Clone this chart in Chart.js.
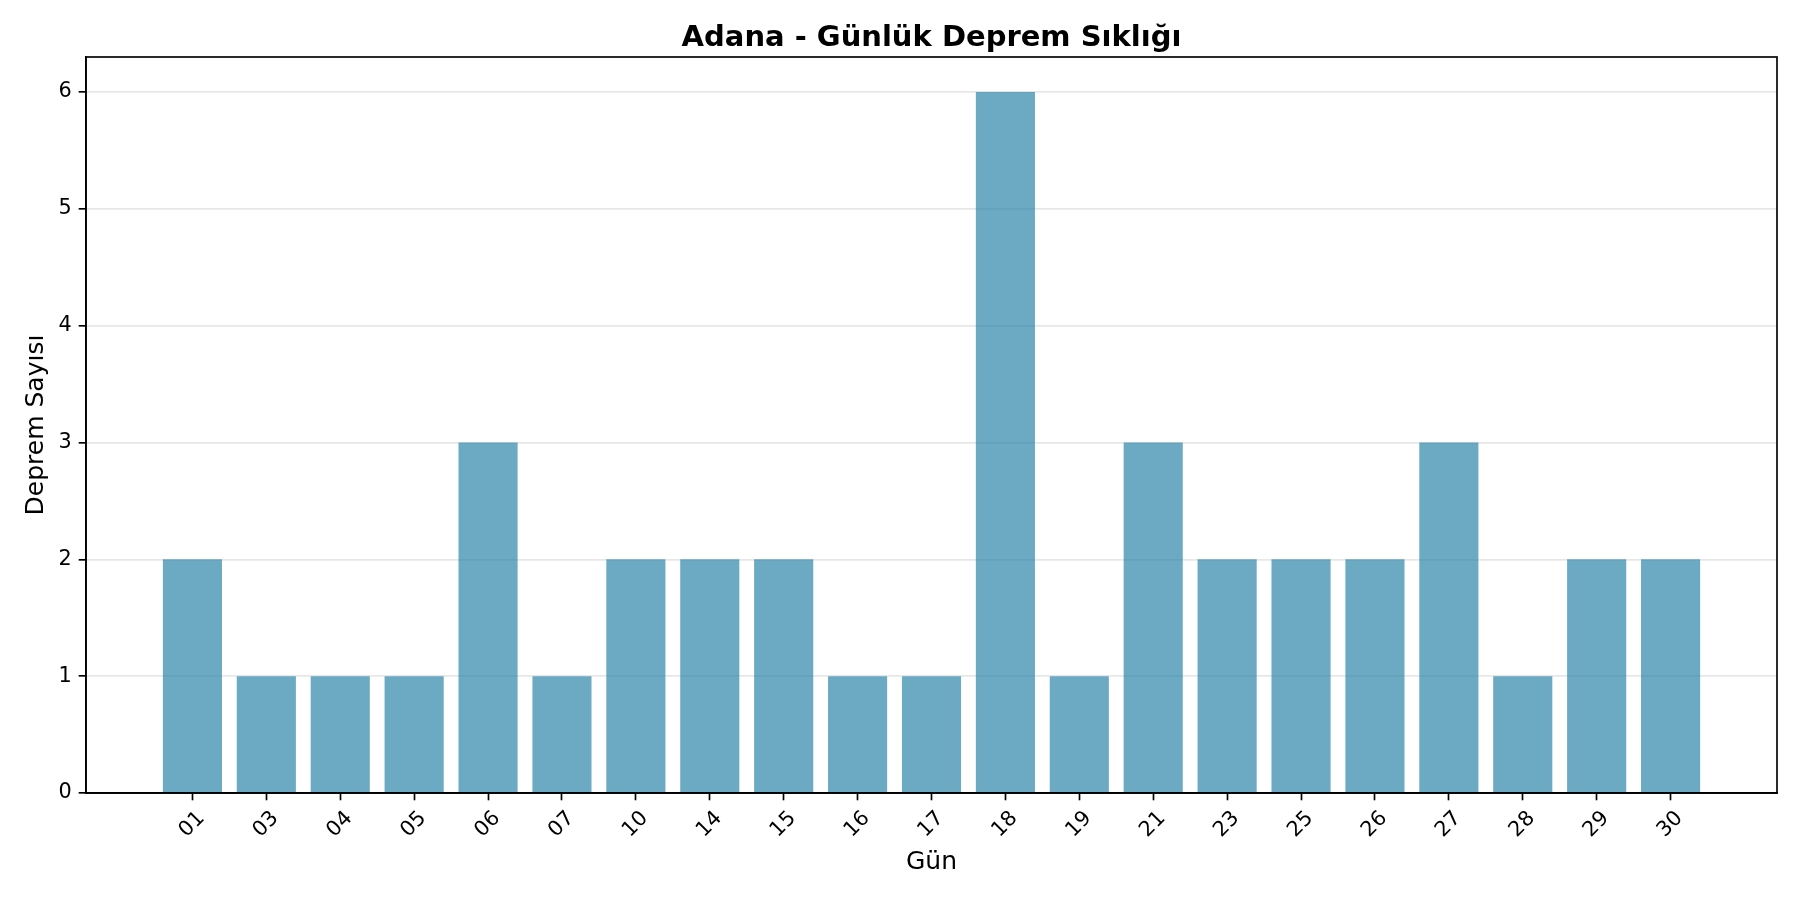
<!DOCTYPE html>
<html>
<head>
<meta charset="utf-8">
<script src="https://cdn.jsdelivr.net/npm/chart.js@4.4.1/dist/chart.umd.min.js"></script>
<style>
  html, body { margin: 0; padding: 0; background: #fff; }
  #wrap { width: 1800px; height: 900px; position: relative; }
</style>
</head>
<body>
<div id="wrap"><canvas id="myChart"></canvas></div>
<script>
const days = ["01", "03", "04", "05", "06", "07", "10", "14", "15", "16", "17",
  "18", "19", "21", "23", "25", "26", "27", "28", "29", "30"];
const counts = [2, 1, 1, 1, 3, 1, 2, 2, 2, 1, 1, 6, 1, 3, 2, 2, 2, 3, 1, 2, 2];
const yTicks = [0, 1, 2, 3, 4, 5, 6];

const font = "'DejaVu Sans', sans-serif";
const lw = 1.67;

// top and right spines, matplotlib style box
const frame = {
  id: "frame",
  afterDraw(chart) {
    const { ctx, chartArea: a } = chart;
    ctx.save();
    ctx.strokeStyle = "#000";
    ctx.lineWidth = lw;
    ctx.strokeRect(a.left, a.top, a.right - a.left, a.bottom - a.top);
    ctx.restore();
  },
};

const ctx = document.getElementById("myChart");

new Chart(ctx, {
  type: "bar",
  data: {
    datasets: [
      {
        data: days.map((d, i) => ({ x: i, y: counts[i] })),
        backgroundColor: "rgba(46, 134, 171, 0.7)",
        borderWidth: 0,
        barPercentage: 0.8,
        categoryPercentage: 1.0,
      },
    ],
  },
  plugins: [frame],
  options: {
    responsive: true,
    maintainAspectRatio: false,
    devicePixelRatio: 1,
    animation: false,
    layout: { padding: { left: 0, right: 23, top: 0, bottom: 0 } },
    plugins: {
      legend: { display: false },
      tooltip: { enabled: false },
      title: {
        display: true,
        fullSize: false,
        text: "Adana - Günlük Deprem Sıklığı",
        color: "#000",
        font: { family: font, size: 29, weight: "bold", lineHeight: 1.2 },
        padding: { top: 21, bottom: 1.2 },
      },
    },
    scales: {
      x: {
        type: "linear",
        min: -1.44,
        max: 21.44,
        offset: false,
        afterBuildTicks: (axis) => {
          axis.ticks = days.map((_, i) => ({ value: i }));
        },
        afterFit: (axis) => {
          axis.height = 107;
        },
        ticks: {
          autoSkip: false,
          minRotation: 45,
          maxRotation: 45,
          padding: 6,
          labelOffset: 9,
          color: "#000",
          font: { family: font, size: 20.8 },
          callback: (v) => days[v],
        },
        grid: {
          offset: false,
          drawOnChartArea: false,
          drawTicks: true,
          tickLength: 7.3,
          tickWidth: lw,
          tickColor: "#000",
        },
        border: { color: "#000", width: lw },
        title: {
          display: true,
          text: "Gün",
          color: "#000",
          font: { family: font, size: 25, lineHeight: 1.2 },
          padding: { top: 0, bottom: 23 },
        },
      },
      y: {
        min: 0,
        max: 6.3,
        afterBuildTicks: (axis) => {
          axis.ticks = yTicks.map((v) => ({ value: v }));
        },
        afterFit: (axis) => {
          axis.width = 86;
        },
        ticks: {
          padding: 7,
          color: "#000",
          font: { family: font, size: 20.8 },
        },
        grid: {
          color: "rgba(176, 176, 176, 0.3)",
          lineWidth: lw,
          tickLength: 7.3,
          tickWidth: lw,
          tickColor: "#000",
        },
        border: { color: "#000", width: lw },
        title: {
          display: true,
          text: "Deprem Sayısı",
          color: "#000",
          font: { family: font, size: 25, lineHeight: 1.2 },
          padding: { top: 21, bottom: 0 },
        },
      },
    },
  },
});
</script>
</body>
</html>
